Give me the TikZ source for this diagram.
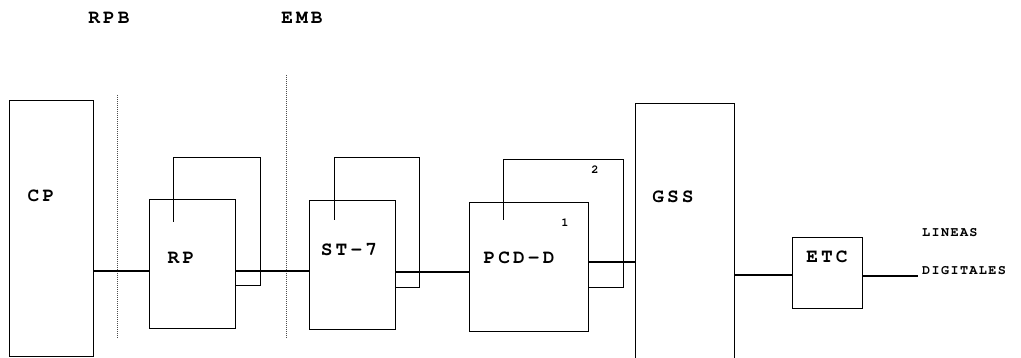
\documentclass[tikz,border=0pt]{standalone}
\usepackage{fontspec}
\setmonofont{TeX Gyre Cursor}
\newfontfamily\lblfont[LetterSpace=16]{TeX Gyre Cursor}
\newfontfamily\smfont[LetterSpace=10]{TeX Gyre Cursor}
\begin{document}
\begin{tikzpicture}[x=1pt,y=-1pt,
  box/.style={draw,line width=1.1pt,rectangle,inner sep=0pt,anchor=north west},
  lbl/.style={font=\lblfont\bfseries\fontsize{19.5}{21}\selectfont,inner sep=0pt},
  sml/.style={font=\smfont\bfseries\fontsize{13.5}{15}\selectfont,inner sep=0pt},
  num/.style={font=\ttfamily\bfseries\fontsize{12}{13}\selectfont,inner sep=0pt},
  conn/.style={line width=1.1pt},
  back/.style={line width=0.7pt},
  divider/.style={line width=0.8pt,dash pattern=on 1pt off 1pt,black!70}]
\useasboundingbox (0,0) rectangle (1021,358);
% boxes
\node[box,minimum width=84pt,minimum height=256pt] (cp) at (9,100) {};
\node[box,minimum width=86pt,minimum height=129pt] (rp) at (149,199) {};
\node[box,minimum width=86pt,minimum height=129pt] (st) at (309,200) {};
\node[box,minimum width=119pt,minimum height=129pt] (pcd) at (469,202) {};
\node[box,minimum width=99pt,minimum height=262pt] (gss) at (635,103) {};
\node[box,minimum width=70pt,minimum height=71pt] (etc) at (792,237) {};
% back outlines
\draw[back] (173,222) -- (173,157) -- (260,157) -- (260,285) -- (rp.east |- 0,285);
\draw[back] (334,220) -- (334,157) -- (419,157) -- (419,287) -- (st.east |- 0,287);
\draw[back] (503,220) -- (503,159) -- (623,159) -- (623,287) -- (pcd.east |- 0,287);
% dividers
\draw[divider] (117,95) -- (117,338);
\draw[divider] (286,75) -- (286,338);
% labels
\node[lbl] (tRPB) at (109,18) {RPB};
\node[lbl] (tEMB) at (302,18) {EMB};
\node[lbl] (tCP) at (41,196) {CP};
\node[lbl] (tRP) at (181,258) {RP};
\node[lbl] (tST) at (349,250) {ST-7};
\node[lbl] (tPCD) at (519,258) {PCD-D};
\node[lbl] (tGSS) at (673,197) {GSS};
\node[lbl] (tETC) at (827,257) {ETC};
\node[num] (n1) at (565,223) {1};
\node[num] (n2) at (595,170) {2};
\node[sml,anchor=west] (tLin) at (922,233) {LINEAS};
\node[sml,anchor=west] (tDig) at (922,271) {DIGITALES};
% connectors
\coordinate (y1) at (0,271);
\coordinate (y2) at (0,272);
\coordinate (y3) at (0,262);
\coordinate (y4) at (0,275);
\coordinate (y5) at (0,276);
\coordinate (out) at (918,276);
\draw[conn] (cp.east |- y1) -- (rp.west |- y1);
\draw[conn] (rp.east |- y1) -- (st.west |- y1);
\draw[conn] (st.east |- y2) -- (pcd.west |- y2);
\draw[conn] (pcd.east |- y3) -- (gss.west |- y3);
\draw[conn] (gss.east |- y4) -- (etc.west |- y4);
\draw[conn] (etc.east |- y5) -- (out);
\end{tikzpicture}
\end{document}
